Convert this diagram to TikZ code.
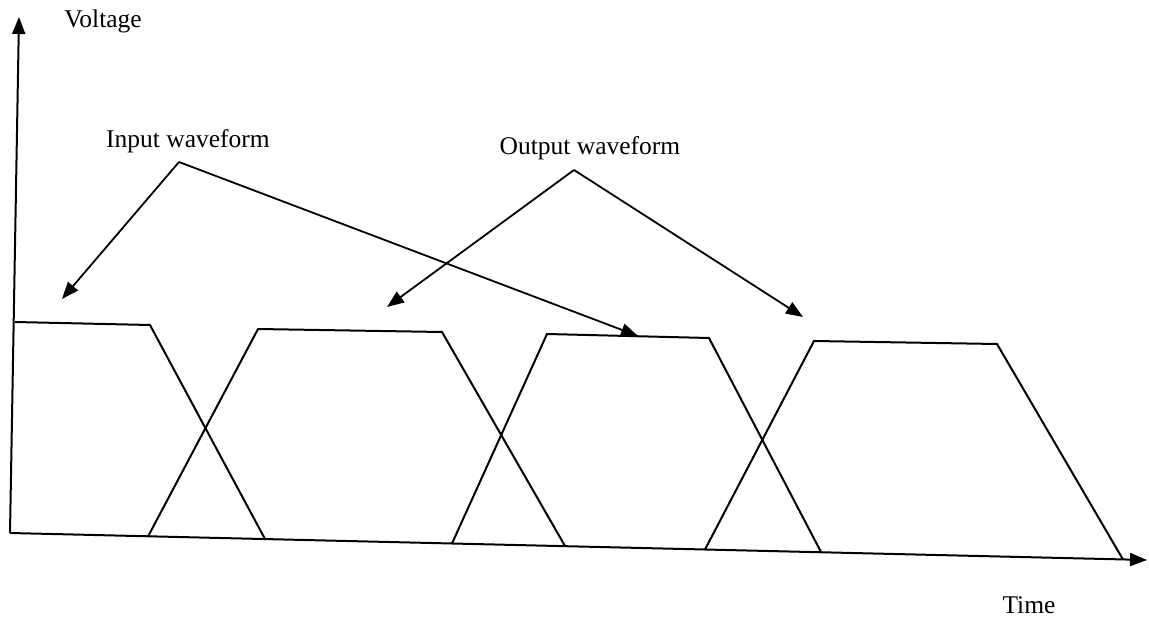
\documentclass[tikz,border=0pt]{standalone}
\usepackage{fontspec}
\setmainfont{Liberation Serif}
\usetikzlibrary{arrows.meta}
\begin{document}
\begin{tikzpicture}[x=1pt,y=-1pt,
  wave/.style={line width=2pt, line join=miter},
  axisline/.style={line width=2pt, -{Triangle[length=17pt,width=13pt]}},
  pointer/.style={line width=1.8pt, -{Triangle[length=17pt,width=13pt]}},
  lbl/.style={anchor=base, inner sep=0pt, font=\fontsize{25.5}{30}\selectfont}]
\useasboundingbox (0,0) rectangle (1149,620);
% axes
\coordinate (origin) at (10,533);
\coordinate (ytip) at (19,17);
\coordinate (xtip) at (1147,560);
\draw[axisline] (origin) -- (ytip);
\draw[axisline] (origin) -- (xtip);
% input waveform trapezoids
\draw[wave] (15,322) -- (150,325) -- (265,539);
\draw[wave] (452,543.5) -- (547,334) -- (709,338) -- (821,552);
% output waveform trapezoids
\draw[wave] (148,536.5) -- (258,329) -- (442,332) -- (565,546);
\draw[wave] (705,549.5) -- (814,341) -- (997,344) -- (1123,559.5);
% labels
\node[lbl] (voltage) at (103,28) {Voltage};
\node[lbl] (time) at (1029,613) {Time};
\node[lbl] (input) at (188,148) {Input waveform};
\node[lbl] (output) at (590,155) {Output waveform};
% pointers
\coordinate (inApex) at (179,162);
\coordinate (outApex) at (574,170);
\coordinate (inTipA) at (62,299);
\coordinate (inTipB) at (638,336);
\coordinate (outTipA) at (387,307);
\coordinate (outTipB) at (803,317);
\draw[pointer] (inApex) -- (inTipA);
\draw[pointer] (inApex) -- (inTipB);
\draw[pointer] (outApex) -- (outTipA);
\draw[pointer] (outApex) -- (outTipB);
\end{tikzpicture}
\end{document}
